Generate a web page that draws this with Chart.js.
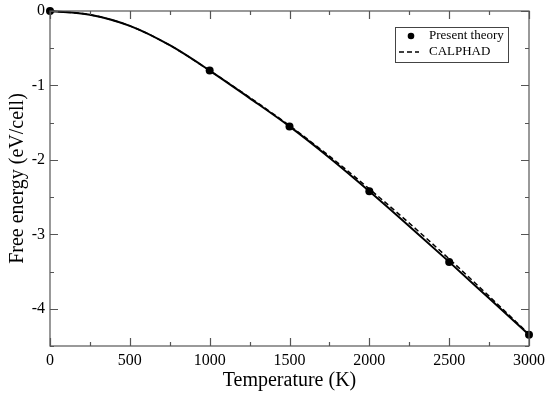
<!DOCTYPE html>
<html>
<head>
<meta charset="utf-8">
<script src="https://cdn.jsdelivr.net/npm/chart.js@4.4.0/dist/chart.umd.min.js"></script>
<style>
html,body{margin:0;padding:0;background:#fff;}
#wrap{width:550px;height:393px;position:relative;}
</style>
</head>
<body>
<div id="wrap"><canvas id="c" width="550" height="393"></canvas></div>
<script>
// Data
const temps = [0, 250, 500, 750, 1000, 1250, 1500, 1750, 2000, 2250, 2500, 2750, 3000];
const theoryCurve = [0, -0.05, -0.2, -0.46, -0.8, -1.17, -1.55, -1.97, -2.42, -2.89, -3.37, -3.86, -4.35];
const calphadCurve = [0, -0.05, -0.2, -0.46, -0.8, -1.16, -1.54, -1.95, -2.39, -2.85, -3.33, -3.83, -4.34];
const pointTemps = [0, 1000, 1500, 2000, 2500, 3000];
const pointValues = [0, -0.8, -1.55, -2.42, -3.37, -4.35];
const xTickValues = [0, 500, 1000, 1500, 2000, 2500, 3000];
const yTickValues = [0, -1, -2, -3, -4];
const legendLabels = ['Present theory', 'CALPHAD'];

const FONT = "'Liberation Serif', 'DejaVu Serif', serif";

const framePlugin = {
  id: 'frame',
  afterDatasetsDraw(chart) {
    const {ctx, chartArea: a, scales: {x, y}} = chart;
    ctx.save();
    ctx.strokeStyle = '#555';
    ctx.lineWidth = 1.2;
    ctx.strokeRect(a.left, a.top, a.right - a.left, a.bottom - a.top);
    const major = 8, minor = 4;
    ctx.beginPath();
    for (let v = 0; v <= 3000; v += 250) {
      const px = Math.round(x.getPixelForValue(v)) + 0.5;
      const len = (v % 500 === 0) ? major : minor;
      ctx.moveTo(px, a.bottom); ctx.lineTo(px, a.bottom - len);
      ctx.moveTo(px, a.top); ctx.lineTo(px, a.top + len);
    }
    for (let v = 0; v >= -4.5; v -= 0.5) {
      const py = Math.round(y.getPixelForValue(v)) + 0.5;
      const len = (Math.abs(v) % 1 === 0) ? major : minor;
      ctx.moveTo(a.left, py); ctx.lineTo(a.left + len, py);
      ctx.moveTo(a.right, py); ctx.lineTo(a.right - len, py);
    }
    ctx.stroke();

    // legend box
    const bx = 395, by = 27, bw = 113, bh = 35;
    ctx.fillStyle = '#fff';
    ctx.fillRect(bx, by, bw, bh);
    ctx.strokeStyle = '#444';
    ctx.lineWidth = 1;
    ctx.strokeRect(bx + 0.5, by + 0.5, bw, bh);
    ctx.fillStyle = '#000';
    ctx.beginPath();
    ctx.arc(411, 36, 3.3, 0, Math.PI * 2);
    ctx.fill();
    ctx.strokeStyle = '#000';
    ctx.lineWidth = 1.5;
    ctx.setLineDash([5, 3]);
    ctx.beginPath();
    ctx.moveTo(399, 52); ctx.lineTo(419, 52);
    ctx.stroke();
    ctx.setLineDash([]);
    ctx.font = '13px ' + FONT;
    ctx.textBaseline = 'middle';
    ctx.textAlign = 'left';
    ctx.fillText(legendLabels[0], 429, 36);
    ctx.fillText(legendLabels[1], 429, 52);
    ctx.restore();
  }
};

new Chart(document.getElementById('c'), {
  type: 'line',
  data: {
    datasets: [
      {
        label: legendLabels[1],
        data: temps.map((t, i) => ({x: t, y: calphadCurve[i]})),
        borderColor: '#000', borderWidth: 1.5, borderDash: [5, 3],
        pointRadius: 0, fill: false, cubicInterpolationMode: 'monotone'
      },
      {
        label: 'theory curve',
        data: temps.map((t, i) => ({x: t, y: theoryCurve[i]})),
        borderColor: '#000', borderWidth: 2,
        pointRadius: 0, fill: false, cubicInterpolationMode: 'monotone'
      },
      {
        label: legendLabels[0],
        data: pointTemps.map((t, i) => ({x: t, y: pointValues[i]})),
        showLine: false, pointRadius: 4, pointBackgroundColor: '#000',
        pointBorderColor: '#000', pointBorderWidth: 0
      }
    ]
  },
  options: {
    responsive: false,
    animation: false,
    clip: false,
    layout: {padding: {left: 0, right: 21, top: 11, bottom: 0}},
    plugins: {legend: {display: false}, tooltip: {enabled: false}},
    scales: {
      x: {
        type: 'linear', min: 0, max: 3000,
        afterBuildTicks: s => { s.ticks = xTickValues.map(v => ({value: v})); },
        afterFit: s => { s.height = 47; s.paddingRight = 0; s.paddingLeft = 0; },
        grid: {display: false, drawTicks: false},
        border: {display: false},
        ticks: {color: '#000', font: {family: FONT, size: 16}, padding: 5, maxRotation: 0,
                callback: v => String(v)},
        title: {display: true, text: 'Temperature (K)', color: '#000', font: {family: FONT, size: 20}, padding: {top: 0, bottom: 0}}
      },
      y: {
        type: 'linear', min: -4.5, max: 0,
        afterBuildTicks: s => { s.ticks = yTickValues.map(v => ({value: v})); },
        afterFit: s => { s.width = 50; s.paddingTop = 0; s.paddingBottom = 0; },
        grid: {display: false, drawTicks: false},
        border: {display: false},
        ticks: {color: '#000', font: {family: FONT, size: 16}, padding: 5,
                callback: v => String(v)},
        title: {display: true, text: 'Free energy (eV/cell)', color: '#000', font: {family: FONT, size: 20}, padding: {top: 6, bottom: 0}}
      }
    }
  },
  plugins: [framePlugin]
});
</script>
</body>
</html>
